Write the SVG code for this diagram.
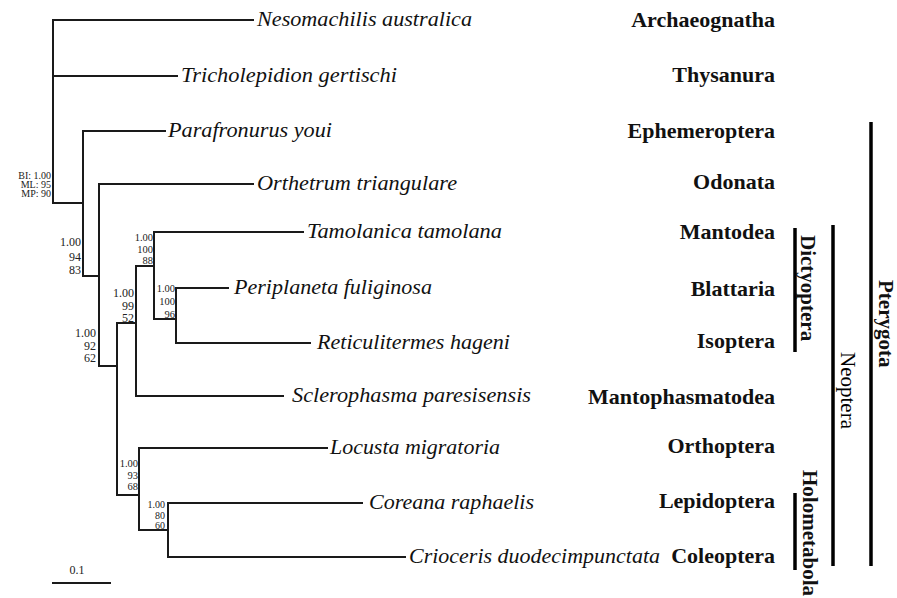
<svg xmlns="http://www.w3.org/2000/svg" width="897" height="598" viewBox="0 0 897 598">
<style>
.br{fill:none;stroke:#1a1a1a;stroke-width:2;stroke-linecap:square}
.bar{stroke:#000;stroke-width:3.5}
.sp{font-family:"Liberation Serif",serif;font-style:italic;font-size:22px;fill:#111}
.ord{font-family:"Liberation Serif",serif;font-weight:bold;font-size:22px;fill:#111;text-anchor:end}
.cl{font-family:"Liberation Serif",serif;font-weight:bold;font-size:21px;fill:#111}
.sup{font-family:"Liberation Serif",serif;font-size:12px;fill:#222;text-anchor:end}
.sm{font-size:10px}
.md{font-size:10.5px}
</style>
<rect width="897" height="598" fill="#fff"/>
<g id="connectors">
<path class="br" d="M253,20H53V203H83M53,76H177"/>
<path class="br" d="M165,131H83V276H99"/>
<path class="br" d="M253,184H99V366H117"/>
<path class="br" d="M136,323H117V495H139"/>
<path class="br" d="M154,266H136V396H283"/>
<path class="br" d="M303,232H154V319H176"/>
<path class="br" d="M228,288H176V343H310"/>
<path class="br" d="M327,448H139V530H168"/>
<path class="br" d="M362,503H168V557H405"/>
</g>
<g id="support">
<text class="sup sm" x="51" y="178.5">BI: 1.00</text>
<text class="sup sm" x="51" y="187.5">ML: 95</text>
<text class="sup sm" x="51" y="196.5">MP: 90</text>
<text class="sup" x="81" y="246">1.00</text>
<text class="sup" x="81" y="261">94</text>
<text class="sup" x="81" y="274">83</text>
<text class="sup md" x="153" y="241">1.00</text>
<text class="sup md" x="153" y="252.5">100</text>
<text class="sup md" x="153" y="264">88</text>
<text class="sup" x="134" y="297">1.00</text>
<text class="sup" x="134" y="310">99</text>
<text class="sup" x="134" y="322">52</text>
<text class="sup md" x="175" y="292">1.00</text>
<text class="sup md" x="175" y="305">100</text>
<text class="sup md" x="175" y="317.5">96</text>
<text class="sup" x="96" y="337">1.00</text>
<text class="sup" x="96" y="349.5">92</text>
<text class="sup" x="96" y="362">62</text>
<text class="sup md" x="138" y="467">1.00</text>
<text class="sup md" x="138" y="478.5">93</text>
<text class="sup md" x="138" y="490">68</text>
<text class="sup sm" x="165" y="508">1.00</text>
<text class="sup sm" x="165" y="518.5">80</text>
<text class="sup sm" x="165" y="529">60</text>
</g>
<g id="leaf-nesomachilis"><text class="sp" x="257" y="26" textLength="215" lengthAdjust="spacingAndGlyphs">Nesomachilis australica</text><text class="ord" x="775" y="27">Archaeognatha</text></g>
<g id="leaf-tricholepidion"><text class="sp" x="181" y="82" textLength="216" lengthAdjust="spacingAndGlyphs">Tricholepidion gertischi</text><text class="ord" x="775" y="82">Thysanura</text></g>
<g id="leaf-parafronurus"><text class="sp" x="168" y="137" textLength="164" lengthAdjust="spacingAndGlyphs">Parafronurus youi</text><text class="ord" x="775" y="138">Ephemeroptera</text></g>
<g id="leaf-orthetrum"><text class="sp" x="257" y="190" textLength="200" lengthAdjust="spacingAndGlyphs">Orthetrum triangulare</text><text class="ord" x="775" y="189">Odonata</text></g>
<g id="leaf-tamolanica"><text class="sp" x="307" y="238" textLength="195" lengthAdjust="spacingAndGlyphs">Tamolanica tamolana</text><text class="ord" x="775" y="239">Mantodea</text></g>
<g id="leaf-periplaneta"><text class="sp" x="234" y="294" textLength="198" lengthAdjust="spacingAndGlyphs">Periplaneta fuliginosa</text><text class="ord" x="775" y="296">Blattaria</text></g>
<g id="leaf-reticulitermes"><text class="sp" x="317" y="349" textLength="193" lengthAdjust="spacingAndGlyphs">Reticulitermes hageni</text><text class="ord" x="775" y="348">Isoptera</text></g>
<g id="leaf-sclerophasma"><text class="sp" x="292" y="402" textLength="239" lengthAdjust="spacingAndGlyphs">Sclerophasma paresisensis</text><text class="ord" x="775" y="404">Mantophasmatodea</text></g>
<g id="leaf-locusta"><text class="sp" x="330" y="454" textLength="170" lengthAdjust="spacingAndGlyphs">Locusta migratoria</text><text class="ord" x="775" y="453">Orthoptera</text></g>
<g id="leaf-coreana"><text class="sp" x="369" y="509" textLength="165" lengthAdjust="spacingAndGlyphs">Coreana raphaelis</text><text class="ord" x="775" y="508">Lepidoptera</text></g>
<g id="leaf-crioceris"><text class="sp" x="409" y="563" textLength="251" lengthAdjust="spacingAndGlyphs">Crioceris duodecimpunctata</text><text class="ord" x="775" y="563">Coleoptera</text></g>
<g id="clade-dictyoptera"><line class="bar" x1="795" y1="228" x2="795" y2="352"/><text class="cl" transform="translate(801,235) rotate(90)">Dictyoptera</text></g>
<g id="clade-holometabola"><line class="bar" x1="795" y1="493" x2="795" y2="570"/><text class="cl" transform="translate(803,470) rotate(90)">Holometabola</text></g>
<g id="clade-neoptera"><line class="bar" x1="833" y1="225" x2="833" y2="566"/><text class="cl" style="font-weight:normal;fill:#000" transform="translate(841,352) rotate(90)">Neoptera</text></g>
<g id="clade-pterygota"><line class="bar" x1="871" y1="122" x2="871" y2="566"/><text class="cl" transform="translate(879,280) rotate(90)">Pterygota</text></g>
<g id="scale">
<line class="br" x1="53" y1="583" x2="110" y2="583"/>
<text class="sup" style="text-anchor:middle" x="77" y="574">0.1</text>
</g>
</svg>
